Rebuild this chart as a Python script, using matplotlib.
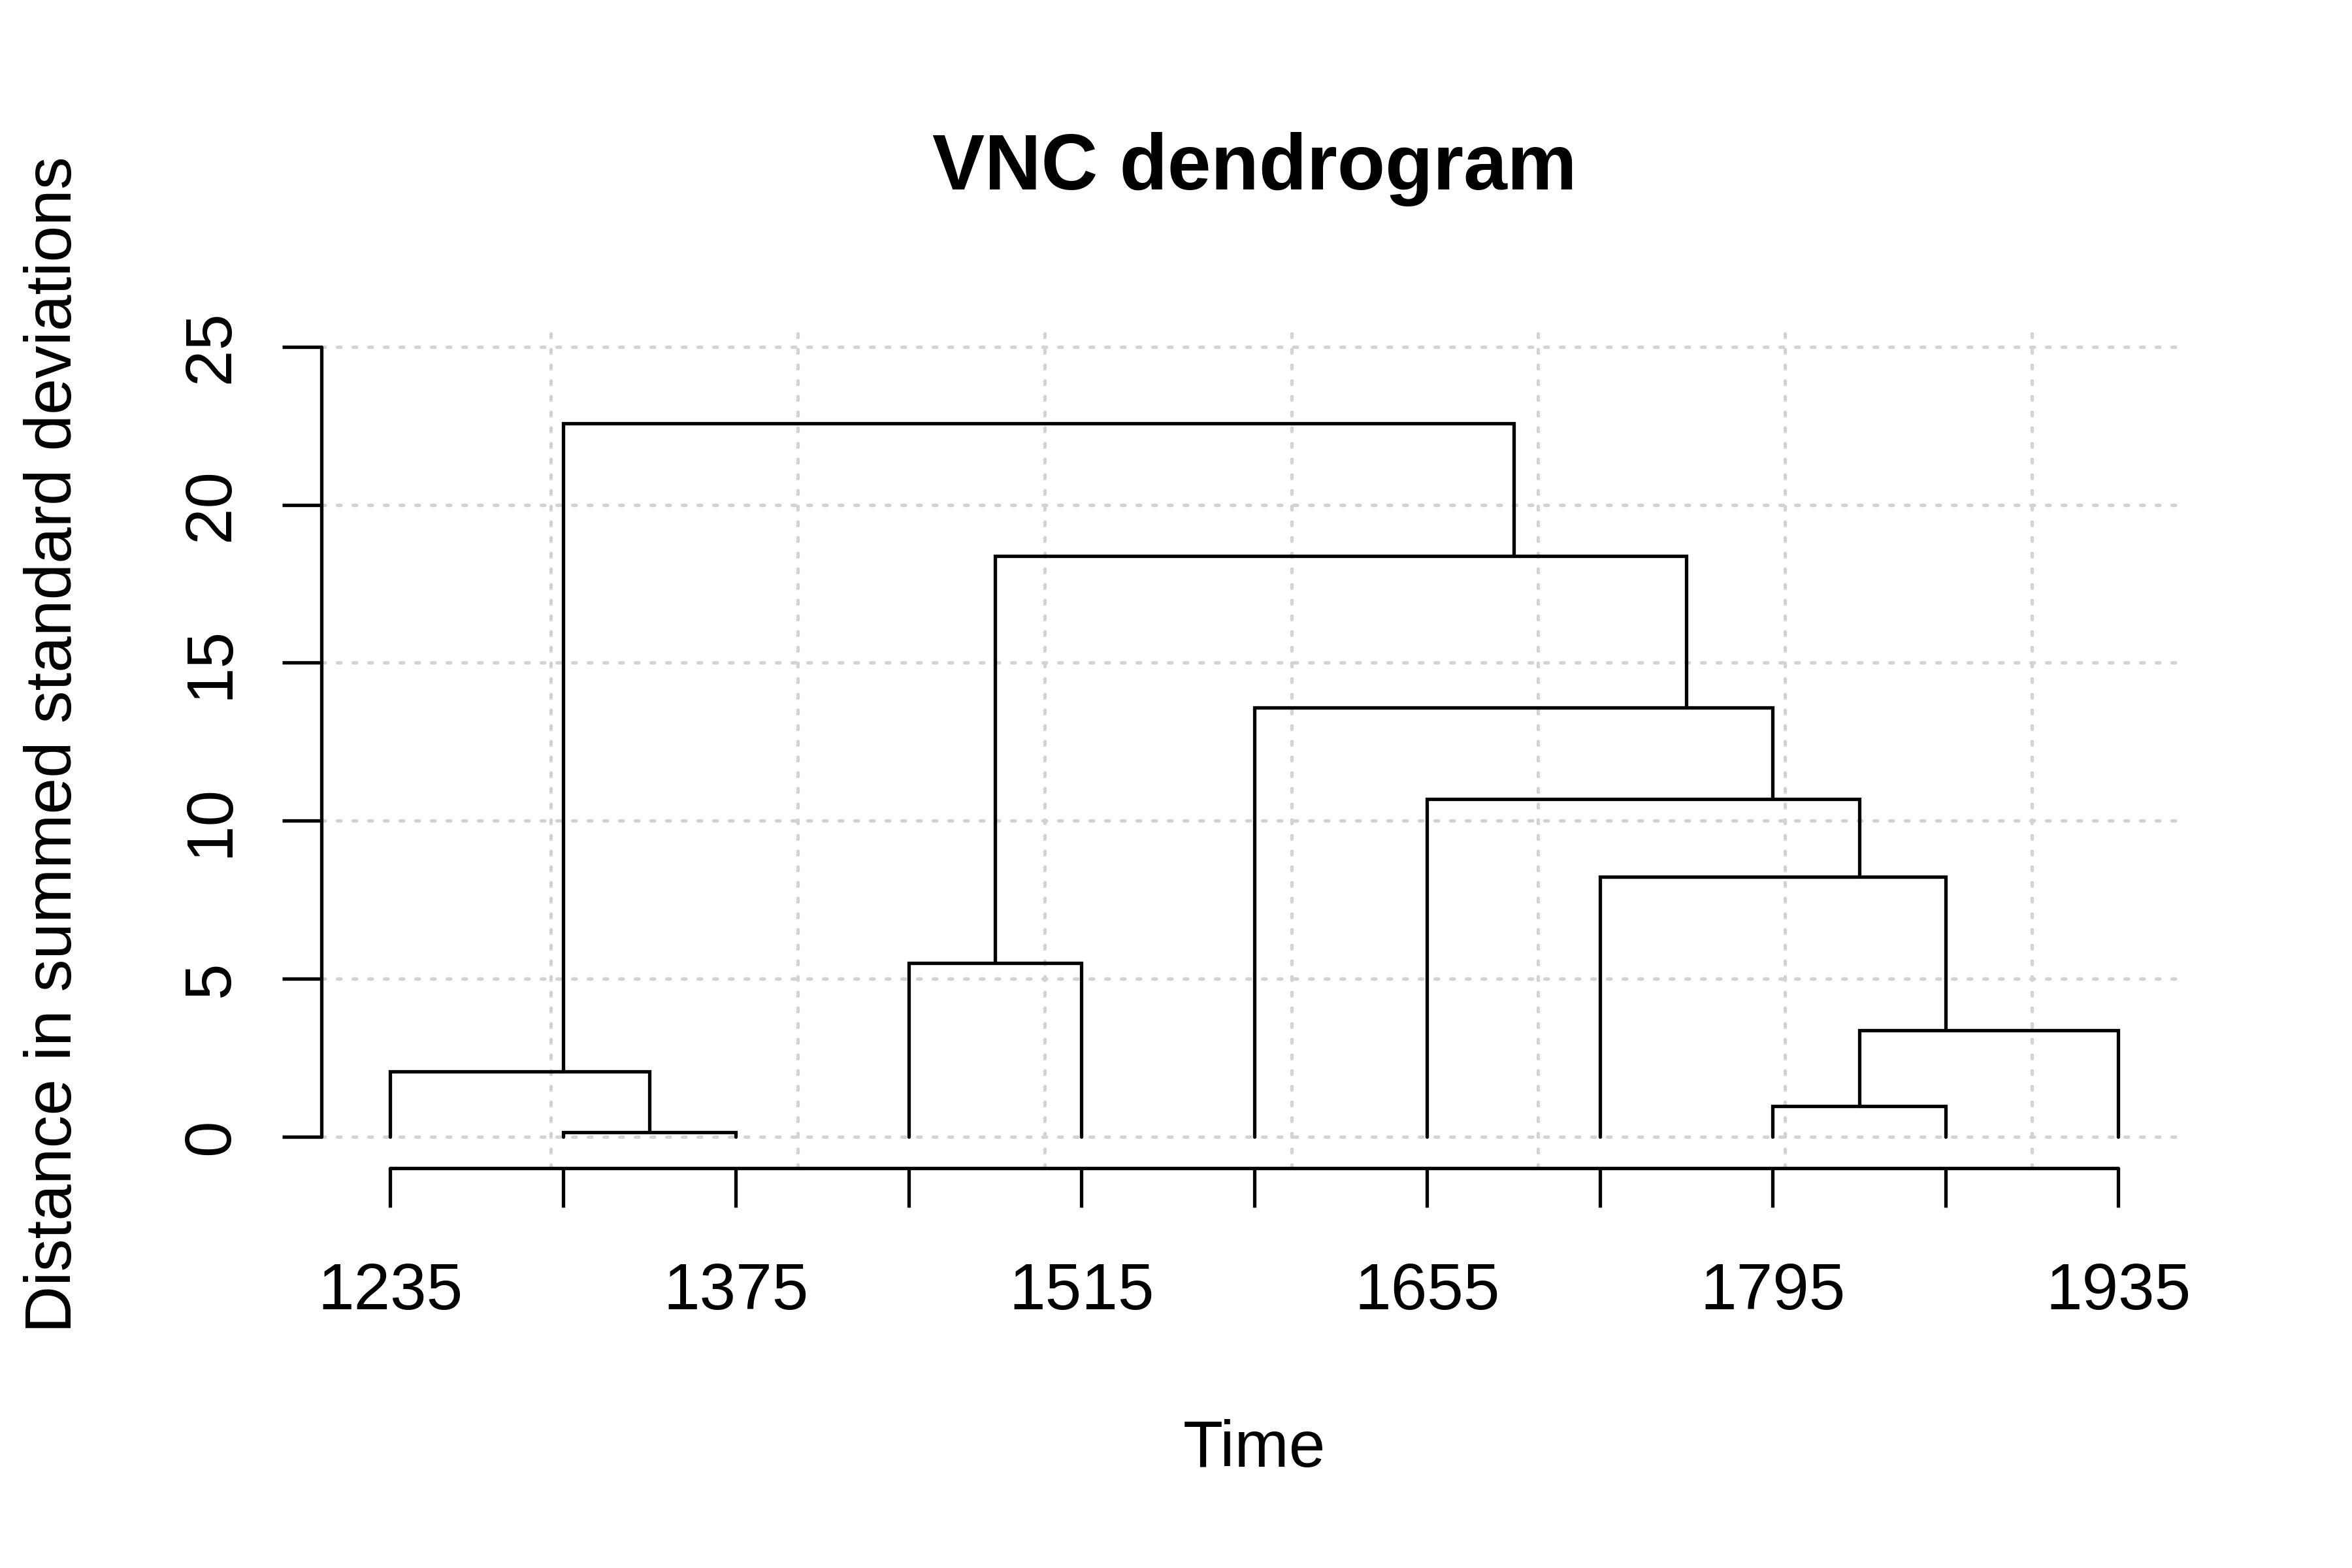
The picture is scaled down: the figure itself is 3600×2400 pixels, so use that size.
import numpy as np
import matplotlib
matplotlib.use("Agg")
import matplotlib.pyplot as plt

plt.rcParams['font.family'] = ['Liberation Sans', 'DejaVu Sans']
plt.rcParams['lines.scale_dashes'] = False

# ---------------- data ----------------
leaf_years = [1235, 1305, 1375, 1445, 1515, 1585, 1655, 1725, 1795, 1865, 1935]
x_tick_labels = ["1235", "", "1375", "", "1515", "", "1655", "", "1795", "", "1935"]
y_ticks = [0, 5, 10, 15, 20, 25]
grid_years = [1300, 1400, 1500, 1600, 1700, 1800, 1900]

# merges (R hclust convention: negative = leaf index, positive = earlier merge)
merge_left = [-2, -1, -4, -9, 4, -8, -7, -6, 3, 2]
merge_right = [-3, 1, -5, -10, -11, 5, 6, 7, 8, 9]
merge_height = [0.15, 2.07, 5.51, 0.97, 3.38, 8.22, 10.69, 13.58, 18.38, 22.58]
# x (year) where each merged cluster's stem rises to its parent
merge_anchor = [1340, 1305, 1480, 1830, 1865, 1830, 1795, 1760, 1690, np.nan]

title = "VNC dendrogram"
xlabel = "Time"
ylabel = "Distance in summed standard deviations"

# ---------------- figure ----------------
W, H = 3600, 2400
fig = plt.figure(figsize=(12, 8), dpi=300)
ax_left, ax_right, ax_top, ax_bottom = 491.7, 3348.0, 492.0, 1788.0
ax = fig.add_axes([ax_left / W, 1 - ax_bottom / H, (ax_right - ax_left) / W, (ax_bottom - ax_top) / H])

LW = 1.27
grid_color = "#D3D3D3"
dot = (0, (1.3, 4.46))

ax.set_xlim(1207, 1963)
ax.set_ylim(-0.99, 25.8)

for gx in grid_years:
    ax.axvline(gx, color=grid_color, lw=LW, linestyle=dot, dash_capstyle='round', zorder=0)
for gy in y_ticks:
    ax.axhline(gy, color=grid_color, lw=LW, linestyle=dot, dash_capstyle='round', zorder=0)


def node_pos(ref):
    if ref < 0:
        return leaf_years[-ref - 1], 0.0
    return merge_anchor[ref - 1], merge_height[ref - 1]


for a, b, h in zip(merge_left, merge_right, merge_height):
    xa, ha = node_pos(a)
    xb, hb = node_pos(b)
    ax.plot([xa, xa, xb, xb], [ha, h, h, hb], color="black", lw=LW,
            solid_capstyle='round', solid_joinstyle='miter', zorder=3)

# axes styling (R base style)
for s in ("top", "right"):
    ax.spines[s].set_visible(False)
ax.spines["left"].set_bounds(y_ticks[0], y_ticks[-1])
ax.spines["bottom"].set_bounds(leaf_years[0], leaf_years[-1])
for s in ("left", "bottom"):
    ax.spines[s].set_linewidth(LW)
    ax.spines[s].set_capstyle('round')

ax.set_xticks(leaf_years)
ax.set_xticklabels(x_tick_labels)
ax.set_yticks(y_ticks)
ax.set_yticklabels([str(v) for v in y_ticks])

ax.tick_params(axis='both', direction='out', length=14.4, width=LW, labelsize=24, colors='black')
ax.tick_params(axis='x', pad=19.9)
ax.tick_params(axis='y', pad=14.6, labelrotation=90)
for lab in ax.get_yticklabels():
    lab.set_va('center')

ax.set_title(title, fontsize=28.8, fontweight='bold', pad=48.5)
ax.set_xlabel(xlabel, fontsize=24)
ax.set_ylabel(ylabel, fontsize=24)
ax.xaxis.set_label_coords(0.5, (ax_bottom - 2172) / (ax_bottom - ax_top))
ax.yaxis.set_label_coords((129.7 - ax_left) / (ax_right - ax_left), 0.5)

fig.savefig("out.png", dpi=300, facecolor="white")
